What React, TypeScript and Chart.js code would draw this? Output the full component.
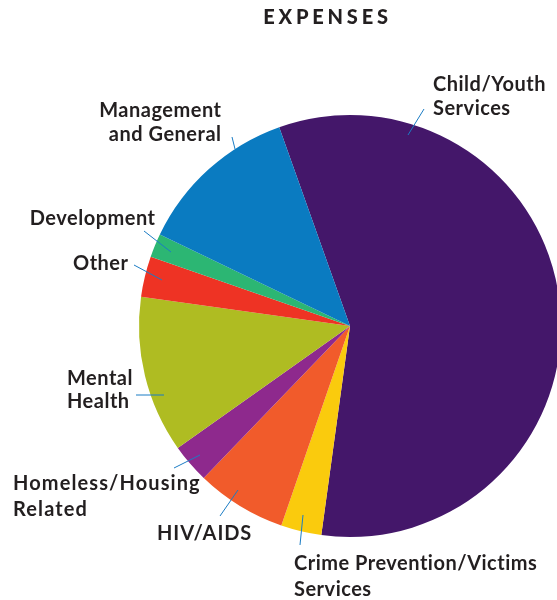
import React, { useEffect, useRef } from "react";
import { Chart, registerables } from "chart.js";

Chart.register(...registerables);

// ---- data ----
const chartTitle = "EXPENSES";
const categories = [
  "Child/Youth Services",
  "Crime Prevention/Victims Services",
  "HIV/AIDS",
  "Homeless/Housing Related",
  "Mental Health",
  "Other",
  "Development",
  "Management and General",
];
const expenseShares = [57.5, 3.1, 6.9, 3.0, 12.0, 3.1, 1.8, 12.4];
const labelLines = [
  ["Child/Youth", "Services"],
  ["Crime Prevention/Victims", "Services"],
  ["HIV/AIDS"],
  ["Homeless/Housing", "Related"],
  ["Mental", "Health"],
  ["Other"],
  ["Development"],
  ["Management", "and General"],
];
const sliceColors = [
  "#44176a",
  "#facb0d",
  "#f15b2b",
  "#8e298d",
  "#afbc22",
  "#ee3324",
  "#2cb673",
  "#0a7bc1",
];

// ---- label layout (offsets from pie centre, px) ----
type LabelLayout = {
  tx: number;
  ty: number;
  align: CanvasTextAlign;
  lh: number;
  ls: number;
  a: [number, number];
  b: [number, number];
};
const labelLayout: LabelLayout[] = [
  { tx: 83, ty: -243, align: "left", lh: 24, ls: 0.5, a: [74, -217], b: [58, -191] },
  { tx: -56, ty: 236, align: "left", lh: 26, ls: 0.5, a: [-50, 219], b: [-47, 189] },
  { tx: -193, ty: 206, align: "left", lh: 24, ls: 0.9, a: [-130, 190], b: [-112, 164] },
  { tx: -337, ty: 156, align: "left", lh: 26, ls: 1.1, a: [-176, 142], b: [-150, 129] },
  { tx: -283, ty: 51, align: "left", lh: 23, ls: 0.5, a: [-214, 69], b: [-186, 69] },
  { tx: -222, ty: -64, align: "right", lh: 24, ls: 0.5, a: [-216, -61], b: [-188, -46] },
  { tx: -195, ty: -109, align: "right", lh: 24, ls: 0.5, a: [-206, -95], b: [-179, -74] },
  { tx: -129, ty: -217, align: "right", lh: 24, ls: 0.5, a: [-118, -189], b: [-115, -177] },
];

const TEXT_COLOR = "#231f20";
const LEADER_COLOR = "#1b7cc4";
const FONT = "Lato, 'Open Sans', sans-serif";

const labelPlugin = {
  id: "outsideLabels",
  afterDraw(chart: any) {
    const ctx: CanvasRenderingContext2D = chart.ctx;
    const meta = chart.getDatasetMeta(0);
    if (!meta.data.length) return;
    const cx = meta.data[0].x;
    const cy = meta.data[0].y;
    ctx.save();
    // title
    ctx.fillStyle = TEXT_COLOR;
    ctx.font = `900 20px ${FONT}`;
    (ctx as any).letterSpacing = "3.8px";
    ctx.textAlign = "center";
    ctx.textBaseline = "middle";
    ctx.fillText(chartTitle, 327.5, 18);

    // leaders
    ctx.strokeStyle = LEADER_COLOR;
    ctx.lineWidth = 1;
    labelLayout.forEach((l) => {
      ctx.beginPath();
      ctx.moveTo(cx + l.a[0], cy + l.a[1]);
      ctx.lineTo(cx + l.b[0], cy + l.b[1]);
      ctx.stroke();
    });

    // labels
    ctx.font = `700 20px ${FONT}`;
    ctx.fillStyle = TEXT_COLOR;
    labelLines.forEach((lines, i) => {
      const l = labelLayout[i];
      (ctx as any).letterSpacing = `${l.ls}px`;
      ctx.textAlign = l.align;
      const shift = l.align === "right" ? l.ls : 0;
      lines.forEach((t, j) => {
        ctx.fillText(t, cx + l.tx + shift, cy + l.ty + 1.5 + j * l.lh);
      });
    });
    ctx.restore();
  },
};

export default function App() {
  const ref = useRef<HTMLCanvasElement | null>(null);
  useEffect(() => {
    document.body.style.margin = "0";
    const canvas = ref.current;
    if (!canvas) return;
    const chart = new Chart(canvas, {
      type: "pie",
      data: {
        labels: categories,
        datasets: [
          {
            data: expenseShares,
            backgroundColor: sliceColors,
            borderWidth: 0,
          },
        ],
      },
      options: {
        animation: false,
        responsive: false,
        rotation: -19.6,
        layout: { padding: { left: 139, top: 115, right: 59, bottom: 63 } },
        plugins: {
          legend: { display: false },
          tooltip: { enabled: false },
          title: { display: false },
        },
      },
      plugins: [labelPlugin],
    });
    return () => chart.destroy();
  }, []);

  return (
    <div
      style={{
        position: "absolute",
        left: 0,
        top: 0,
        width: 557,
        height: 600,
        overflow: "hidden",
        background: "#ffffff",
      }}
    >
      <canvas ref={ref} width={620} height={600} style={{ width: 620, height: 600, display: "block" }} />
    </div>
  );
}
